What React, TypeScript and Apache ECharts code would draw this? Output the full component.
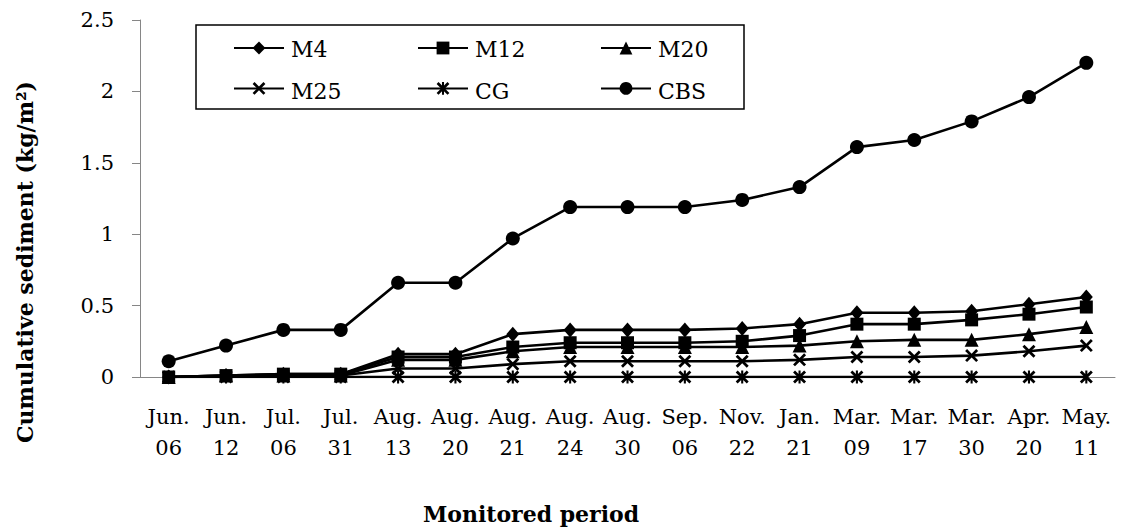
import React, { useEffect, useRef } from "react";
import * as echarts from "echarts";

const categories = [
  "Jun.\n06", "Jun.\n12", "Jul.\n06", "Jul.\n31", "Aug.\n13", "Aug.\n20", "Aug.\n21", "Aug.\n24",
  "Aug.\n30", "Sep.\n06", "Nov.\n22", "Jan.\n21", "Mar.\n09", "Mar.\n17", "Mar.\n30", "Apr.\n20", "May.\n11",
];

const m4 = [0, 0.01, 0.02, 0.02, 0.16, 0.16, 0.3, 0.33, 0.33, 0.33, 0.34, 0.37, 0.45, 0.45, 0.46, 0.51, 0.56];
const m12 = [0, 0.01, 0.02, 0.02, 0.14, 0.14, 0.21, 0.24, 0.24, 0.24, 0.25, 0.29, 0.37, 0.37, 0.4, 0.44, 0.49];
const m20 = [0, 0.01, 0.01, 0.01, 0.12, 0.12, 0.18, 0.21, 0.21, 0.21, 0.21, 0.22, 0.25, 0.26, 0.26, 0.3, 0.35];
const m25 = [0, 0.005, 0.01, 0.01, 0.06, 0.06, 0.09, 0.11, 0.11, 0.11, 0.11, 0.12, 0.14, 0.14, 0.15, 0.18, 0.22];
const cg = [0, 0, 0, 0, 0, 0, 0, 0, 0, 0, 0, 0, 0, 0, 0, 0, 0];
const cbs = [0.11, 0.22, 0.33, 0.33, 0.66, 0.66, 0.97, 1.19, 1.19, 1.19, 1.24, 1.33, 1.61, 1.66, 1.79, 1.96, 2.2];

const yTicks = { min: 0, max: 2.5, interval: 0.5 };

const legendColumns = [
  ["M4", "M25"],
  ["M12", "CG"],
  ["M20", "CBS"],
];

const X_PATH =
  "path://M1.5,0 L5,3.5 L8.5,0 L10,1.5 L6.5,5 L10,8.5 L8.5,10 L5,6.5 L1.5,10 L0,8.5 L3.5,5 L0,1.5 Z";
const STAR_PATH =
  "path://M1.5,0 L5,3.5 L8.5,0 L10,1.5 L6.5,5 L10,8.5 L8.5,10 L5,6.5 L1.5,10 L0,8.5 L3.5,5 L0,1.5 Z M4.2,0 L5.8,0 L5.8,10 L4.2,10 Z";

const FONT = "DejaVu Serif";

export default function App() {
  const ref = useRef<HTMLDivElement>(null);

  useEffect(() => {
    if (!ref.current) return;
    const chart = echarts.init(ref.current, null, { renderer: "svg" });

    const mk = (name: string, data: number[], symbol: string, size: any) => ({
      name,
      type: "line",
      data,
      symbol,
      symbolSize: size,
      showSymbol: true,
      lineStyle: { color: "#000", width: 2.6 },
      itemStyle: { color: "#000" },
      emphasis: { disabled: true },
    });

    const colLeft = [233, 417, 600];
    const rowY = [48, 90];

    const legends = legendColumns.map((names, i) => ({
      orient: "vertical",
      left: colLeft[i],
      top: rowY[0] - 8,
      padding: 0,
      itemWidth: 50,
      itemHeight: 16,
      itemGap: rowY[1] - rowY[0] - 16,
      selectedMode: false,
      formatter: () => "",
      data: names,
    }));

    const legendTexts: any[] = [];
    legendColumns.forEach((names, i) =>
      names.forEach((n, j) =>
        legendTexts.push({
          type: "text",
          x: colLeft[i] + 58,
          y: rowY[j] + 1,
          silent: true,
          style: {
            text: n,
            font: `22px "${FONT}"`,
            fill: "#000",
            align: "left",
            verticalAlign: "middle",
            textAlign: "left",
            textVerticalAlign: "middle",
          },
        })
      )
    );

    chart.setOption({
      animation: false,
      textStyle: { fontFamily: FONT },
      grid: { left: 140, right: 6, top: 20, bottom: 153, containLabel: false },
      legend: legends,
      xAxis: {
        type: "category",
        data: categories,
        boundaryGap: true,
        axisLine: { show: true, lineStyle: { color: "#868686", width: 1 } },
        axisTick: { show: false },
        axisLabel: {
          interval: 0,
          color: "#000",
          fontFamily: FONT,
          fontSize: 21,
          lineHeight: 31,
          margin: 24,
        },
        splitLine: { show: false },
      },
      yAxis: {
        type: "value",
        min: yTicks.min,
        max: yTicks.max,
        interval: yTicks.interval,
        axisLine: { show: true, lineStyle: { color: "#868686", width: 1 } },
        axisTick: { show: true, length: 8, lineStyle: { color: "#868686" } },
        axisLabel: { color: "#000", fontFamily: FONT, fontSize: 21, margin: 26 },
        splitLine: { show: false },
      },
      series: [
        mk("M4", m4, "diamond", [13, 15]),
        mk("M12", m12, "rect", 13),
        mk("M20", m20, "triangle", 14),
        mk("M25", m25, X_PATH, 13),
        mk("CG", cg, STAR_PATH, 13),
        mk("CBS", cbs, "circle", 14),
      ],
      graphic: [
        {
          type: "rect",
          shape: { x: 196, y: 25, width: 548, height: 84 },
          style: { fill: "none", stroke: "#000", lineWidth: 1.5 },
          silent: true,
        },
        ...legendTexts,
        {
          type: "text",
          x: 25,
          y: 262,
          rotation: Math.PI / 2,
          style: {
            text: "Cumulative sediment (kg/m²)",
            font: `bold 22px "${FONT}"`,
            fill: "#000",
            align: "center",
            verticalAlign: "middle",
            textAlign: "center",
            textVerticalAlign: "middle",
          },
        },
        {
          type: "text",
          x: 531,
          y: 514,
          style: {
            text: "Monitored period",
            font: `bold 22px "${FONT}"`,
            fill: "#000",
            align: "center",
            verticalAlign: "middle",
            textAlign: "center",
            textVerticalAlign: "middle",
          },
        },
      ],
    });

    return () => chart.dispose();
  }, []);

  return (
    <div
      ref={ref}
      style={{ position: "fixed", left: 0, top: 0, width: 1121, height: 530, background: "#fff" }}
    />
  );
}
